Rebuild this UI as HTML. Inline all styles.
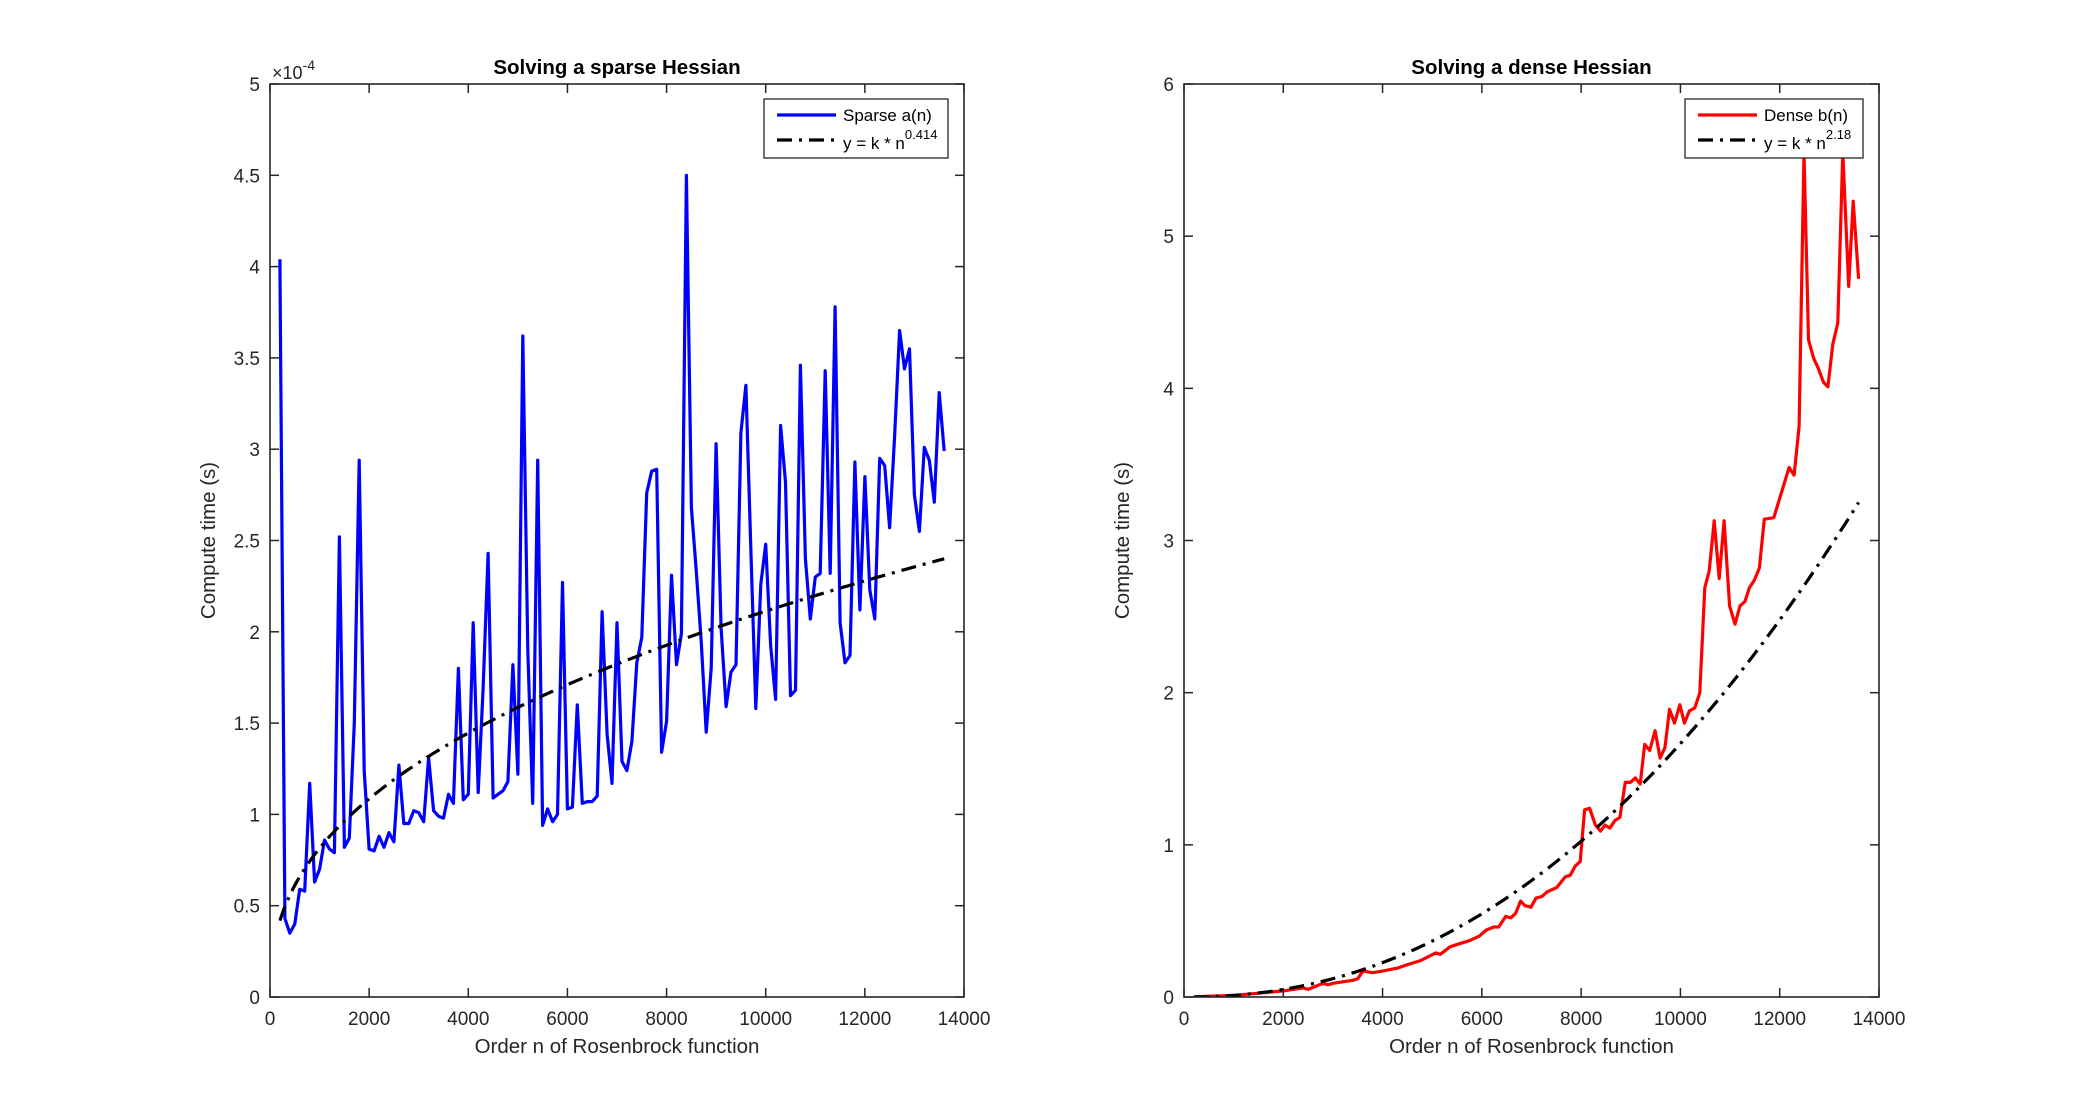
<!DOCTYPE html>
<html><head><meta charset="utf-8"><style>
html,body{margin:0;padding:0;background:#fff;}
svg{display:block;font-family:"Liberation Sans",Arial,sans-serif;}
</style></head><body>
<svg id="fig" width="2076" height="1120" viewBox="0 0 2076 1120" xmlns="http://www.w3.org/2000/svg"></svg>
<script>
// ---- Sparse chart data (units 1e-4 s) ----
const sparseStartN = 200;
const sparseStepN = 100;
const sparseValues = [4.04,0.43,0.35,0.40,0.59,0.58,1.17,0.63,0.70,0.86,0.81,0.79,2.52,0.82,0.87,1.50,2.94,1.24,0.81,0.80,0.88,0.82,0.90,0.85,1.27,0.95,0.95,1.02,1.01,0.96,1.31,1.02,0.99,0.98,1.11,1.06,1.80,1.08,1.11,2.05,1.12,1.70,2.43,1.09,1.11,1.13,1.18,1.82,1.22,3.62,1.90,1.06,2.94,0.94,1.03,0.96,1.00,2.27,1.03,1.04,1.60,1.06,1.07,1.07,1.10,2.11,1.44,1.17,2.05,1.29,1.24,1.40,1.83,1.97,2.76,2.88,2.89,1.34,1.51,2.31,1.82,1.99,4.50,2.68,2.33,1.94,1.45,1.80,3.03,2.02,1.59,1.78,1.82,3.09,3.35,2.46,1.58,2.26,2.48,1.92,1.63,3.13,2.82,1.65,1.68,3.46,2.40,2.07,2.30,2.32,3.43,2.32,3.78,2.05,1.83,1.87,2.93,2.12,2.85,2.23,2.07,2.95,2.91,2.57,3.07,3.65,3.44,3.55,2.75,2.55,3.01,2.94,2.71,3.31,2.99];
const sparseFitExp = 0.414;
const sparseFitEnd = 2.40; // fit value at last n
const sparseXTicks = [0,2000,4000,6000,8000,10000,12000,14000];
const sparseYTicks = [0,0.5,1,1.5,2,2.5,3,3.5,4,4.5,5];
const sparseYLabels = ["0","0.5","1","1.5","2","2.5","3","3.5","4","4.5","5"];

// ---- Dense chart data (s) ----
const denseN = [200,500,1000,1500,2000,2400,2500,2800,2900,3000,3200,3400,3500,3600,3800,4000,4300,4480,4770,5070,5160,5360,5550,5750,5950,6090,6240,6340,6480,6580,6680,6780,6870,6990,7090,7210,7310,7510,7680,7780,7880,7980,8070,8170,8290,8390,8480,8580,8680,8780,8890,8990,9090,9190,9280,9380,9490,9590,9690,9780,9880,9990,10080,10180,10290,10390,10490,10580,10680,10780,10880,10990,11100,11200,11300,11390,11490,11590,11690,11880,12190,12290,12390,12490,12580,12680,12780,12880,12970,13070,13170,13270,13390,13480,13590];
const denseValues = [0,0.005,0.01,0.025,0.04,0.06,0.05,0.09,0.08,0.09,0.10,0.11,0.12,0.17,0.16,0.17,0.19,0.21,0.24,0.29,0.28,0.33,0.35,0.37,0.40,0.44,0.46,0.46,0.53,0.52,0.55,0.63,0.60,0.59,0.65,0.66,0.69,0.72,0.79,0.80,0.86,0.89,1.23,1.24,1.13,1.09,1.13,1.11,1.16,1.18,1.41,1.41,1.44,1.40,1.66,1.62,1.75,1.57,1.64,1.89,1.80,1.92,1.80,1.88,1.90,2.00,2.69,2.80,3.13,2.75,3.13,2.57,2.45,2.57,2.60,2.69,2.74,2.82,3.14,3.15,3.48,3.43,3.75,5.55,4.32,4.20,4.13,4.04,4.01,4.29,4.43,5.55,4.67,5.23,4.72];
const denseFitExp = 2.18;
const denseFitEnd = 3.25;
const denseXTicks = [0,2000,4000,6000,8000,10000,12000,14000];
const denseYTicks = [0,1,2,3,4,5,6];
const denseYLabels = ["0","1","2","3","4","5","6"];

const NS = "http://www.w3.org/2000/svg";
const svg = document.getElementById('fig');
function mk(tag, attrs, parent){ const e=document.createElementNS(NS,tag); for(const k in attrs) e.setAttribute(k,attrs[k]); (parent||svg).appendChild(e); return e; }

function drawPanel(o){
  const g = mk('g',{});
  
  
  const X = v => o.x0 + (v-0)/(14000)*(o.x1-o.x0);
  const Y = v => o.y1 - (v-0)/(o.ymax)*(o.y1-o.y0);
  // clip
  const cid = o.name+'-clip';
  const defs = mk('defs',{},g);
  const cp = mk('clipPath',{id:cid},defs);
  mk('rect',{x:o.x0,y:o.y0,width:o.x1-o.x0,height:o.y1-o.y0},cp);
  // data line
  let d='';
  o.ns.forEach((n,i)=>{ d += (i?'L':'M')+X(n).toFixed(1)+' '+Y(o.vals[i]).toFixed(1); });
  const dl = mk('path',{d:d,fill:'none',stroke:o.color,'stroke-width':3.2,'stroke-linejoin':'round','clip-path':'url(#'+cid+')'},g);
  
  
  // fit line
  const nFirst = o.ns[0], nLast = o.ns[o.ns.length-1];
  const k = o.fitEnd/Math.pow(nLast,o.fitExp);
  let fd='';
  for(let i=0;i<=200;i++){ const n=nFirst+(nLast-nFirst)*i/200; fd += (i?'L':'M')+X(n).toFixed(1)+' '+Y(k*Math.pow(n,o.fitExp)).toFixed(1); }
  const fl = mk('path',{d:fd,fill:'none',stroke:'#000','stroke-width':3.2,'stroke-dasharray':'15 7 3 7','clip-path':'url(#'+cid+')'},g);
  
  
  // box
  mk('rect',{x:o.x0,y:o.y0,width:o.x1-o.x0,height:o.y1-o.y0,fill:'none',stroke:'#262626','stroke-width':1.6},g);
  // ticks
  o.xt.forEach(t=>{
    const x=X(t);
    mk('line',{x1:x,y1:o.y1,x2:x,y2:o.y1-9,stroke:'#262626','stroke-width':1.5},g);
    mk('line',{x1:x,y1:o.y0,x2:x,y2:o.y0+9,stroke:'#262626','stroke-width':1.5},g);
    const tx = mk('text',{x:x,y:o.y1+28,'font-size':19,'text-anchor':'middle',fill:'#262626'},g);
    tx.textContent = String(t);
    
    
  });
  o.yt.forEach((t,i)=>{
    const y=Y(t);
    mk('line',{x1:o.x0,y1:y,x2:o.x0+9,y2:y,stroke:'#262626','stroke-width':1.5},g);
    mk('line',{x1:o.x1,y1:y,x2:o.x1-9,y2:y,stroke:'#262626','stroke-width':1.5},g);
    const ty = mk('text',{x:o.x0-10,y:y+7,'font-size':19,'text-anchor':'end',fill:'#262626'},g);
    ty.textContent = o.yl[i];
    
    
  });
  // titles
  const tt = mk('text',{x:(o.x0+o.x1)/2,y:74,'font-size':20.5,'font-weight':'bold','text-anchor':'middle',fill:'#000'},g);
  tt.textContent = o.title;
  
  
  const xl = mk('text',{x:(o.x0+o.x1)/2,y:1053,'font-size':20.5,'text-anchor':'middle',fill:'#262626'},g);
  xl.textContent = 'Order n of Rosenbrock function';
  
  
  const cy=(o.y0+o.y1)/2, cx=o.x0-55;
  const yl = mk('text',{x:cx,y:cy,'font-size':20.5,'text-anchor':'middle',fill:'#262626',transform:'rotate(-90 '+cx+' '+cy+')'},g);
  yl.textContent = 'Compute time (s)';
  
  
  // legend
  const lg = mk('g',{},g);
  
  
  mk('rect',{x:o.lx0,y:99,width:o.lx1-o.lx0,height:59,fill:'#fff',stroke:'#262626','stroke-width':1.3},lg);
  mk('line',{x1:o.lx0+13,y1:115,x2:o.lx0+72,y2:115,stroke:o.color,'stroke-width':3.2},lg);
  mk('line',{x1:o.lx0+13,y1:140,x2:o.lx0+72,y2:140,stroke:'#000','stroke-width':3.2,'stroke-dasharray':'15 7 3 7'},lg);
  const l1 = mk('text',{x:o.lx0+79,y:121,'font-size':17,fill:'#000'},lg);
  l1.textContent = o.seriesLabel;
  
  
  const l2 = mk('text',{x:o.lx0+79,y:149,'font-size':17,fill:'#000'},lg);
  l2.textContent = 'y = k * n';
  const sup = mk('tspan',{dy:-10,'font-size':13},l2);
  sup.textContent = o.expLabel;
  
  
}

const sparseN = sparseValues.map((_,i)=>sparseStartN+i*sparseStepN);
drawPanel({name:'sparse-chart',x0:270,x1:964,y0:84,y1:997,ymax:5,ns:sparseN,vals:sparseValues,color:'#0000ff',
  fitExp:sparseFitExp,fitEnd:sparseFitEnd,xt:sparseXTicks,yt:sparseYTicks,yl:sparseYLabels,
  title:'Solving a sparse Hessian',seriesName:'sparse-series',seriesLabel:'Sparse a(n)',expLabel:'0.414',lx0:764,lx1:948});
drawPanel({name:'dense-chart',x0:1184,x1:1879,y0:84,y1:997,ymax:6,ns:denseN,vals:denseValues,color:'#ff0000',
  fitExp:denseFitExp,fitEnd:denseFitEnd,xt:denseXTicks,yt:denseYTicks,yl:denseYLabels,
  title:'Solving a dense Hessian',seriesName:'dense-series',seriesLabel:'Dense b(n)',expLabel:'2.18',lx0:1685,lx1:1863});

// exponent multiplier label
const ex = mk('text',{x:272,y:79,'font-size':18,fill:'#262626'});
ex.textContent = '\u00d710';
const exs = mk('tspan',{dy:-9,'font-size':14},ex);
exs.textContent = '-4';


</script>
</body></html>
